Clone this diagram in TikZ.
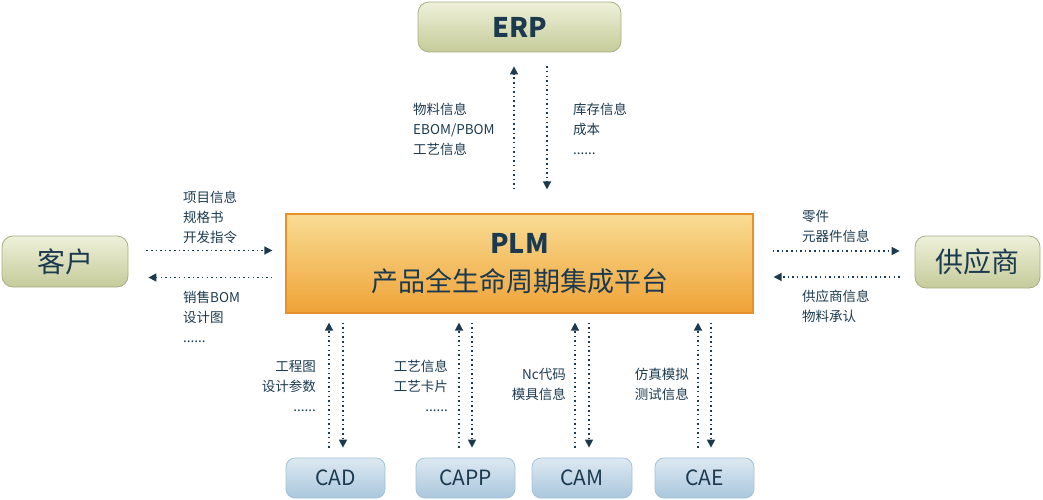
\documentclass[tikz,border=0pt]{standalone}
\usepackage{fontspec}
\setmainfont{Noto Sans CJK SC}
\usepackage{tikz}
\usetikzlibrary{arrows.meta,calc}

\definecolor{navy}{HTML}{1C3A4F}
\definecolor{erptop}{HTML}{EEF1D9}
\definecolor{erpbot}{HTML}{C5CB9A}
\definecolor{erpline}{HTML}{A7AE86}
\definecolor{plmtop}{HTML}{F8DC94}
\definecolor{plmbot}{HTML}{EFA236}
\definecolor{plmline}{HTML}{E8912A}
\definecolor{tooltop}{HTML}{DDE9F2}
\definecolor{toolbot}{HTML}{A9C7DD}
\definecolor{toolline}{HTML}{A5C1D6}

\tikzset{
  greenbox/.style={rounded corners=11pt, draw=erpline, line width=0.8pt,
    top color=erptop, bottom color=erpbot, text=navy, inner sep=0pt},
  plmbox/.style={draw=plmline, line width=1.2pt,
    top color=plmtop, bottom color=plmbot, text=navy, inner sep=0pt,
    minimum width=467pt, minimum height=99pt, align=center},
  toolbox/.style={rounded corners=9pt, draw=toolline, line width=0.8pt,
    top color=tooltop, bottom color=toolbot, text=navy, inner sep=0pt,
    minimum width=99pt, minimum height=40pt, font=\fontsize{21}{24}\selectfont},
  flow/.style={navy, line width=1.5pt, dash pattern=on 1.5pt off 3.1pt,
    -{Triangle[width=8pt,length=8pt]}},
  info/.style={text=navy, inner sep=0pt, font=\fontsize{13.5}{20}\selectfont}
}

\begin{document}
\begin{tikzpicture}[x=1pt,y=1pt]
	%%%%% START %%%%%
	\useasboundingbox (0,0) rectangle (1043,-500);

	% boxes
	\node[greenbox, minimum width=203pt, minimum height=50pt,
	  font=\fontsize{27}{30}\selectfont\bfseries] (erp) at (519.5,-27) {ERP};
	\node[plmbox, font=\fontsize{27}{38}\selectfont] (plm) at (519.5,-263.5)
	  {\textbf{PLM}\\产品全生命周期集成平台};
	\node[greenbox, minimum width=126pt, minimum height=51pt,
	  font=\fontsize{28}{30}\selectfont] (kehu) at (65,-261.5) {客户};
	\node[greenbox, minimum width=125pt, minimum height=52pt,
	  font=\fontsize{28}{30}\selectfont] (gys) at (977.5,-262) {供应商};
	\node[toolbox] (cad) at (335.5,-478) {CAD};
	\node[toolbox] (capp) at (465.5,-478) {CAPP};
	\node[toolbox, minimum width=100pt] (cam) at (582,-478) {CAM};
	\node[toolbox] (cae) at (704.5,-478) {CAE};

	% ERP <-> PLM
	\draw[flow, shorten <=24pt, shorten >=14pt] ([xshift=-5.5pt]plm.north) -- ([xshift=-5.5pt]erp.south);
	\draw[flow, shorten <=14pt, shorten >=24pt] ([xshift=27.5pt]erp.south) -- ([xshift=27.5pt]plm.north);

	% customer <-> PLM
	\draw[flow, shorten <=18pt, shorten >=13pt] ([yshift=11pt]kehu.east) -- ([yshift=11pt]kehu.east -| plm.west);
	\draw[flow, shorten <=13pt, shorten >=20pt] ([yshift=-16pt]kehu.east -| plm.west) -- ([yshift=-16pt]kehu.east);

	% supplier <-> PLM
	\draw[flow, shorten <=19pt, shorten >=15pt] ([yshift=11pt]gys.west -| plm.east) -- ([yshift=11pt]gys.west);
	\draw[flow, shorten <=15pt, shorten >=20pt] ([yshift=-15pt]gys.west) -- ([yshift=-15pt]gys.west -| plm.east);

	% tools <-> PLM
	\foreach \t/\a/\b in {cad/-6.5/7.5, capp/-6.5/6.5, cam/-7/7, cae/-6.5/6.5}{
	  \draw[flow, shorten <=10pt, shorten >=9pt] ([xshift=\a pt]\t.north) -- ([xshift=\a pt]\t.north |- plm.south);
	  \draw[flow, shorten <=9pt, shorten >=10pt] ([xshift=\b pt]\t.north |- plm.south) -- ([xshift=\b pt]\t.north);
	}

	% labels (anchored at the baseline of the last line)
	\node[info, align=left, anchor=base west] (erpin) at (413,-154) {物料信息\\EBOM/PBOM\\工艺信息};
	\node[info, align=left, anchor=base west] (erpout) at (573,-154) {库存信息\\成本\\......};
	\node[info, align=left, anchor=base west] (kehuin) at (183,-242) {项目信息\\规格书\\开发指令};
	\node[info, align=left, anchor=base west] (kehuout) at (183,-342) {销售BOM\\设计图\\......};
	\node[info, align=left, anchor=base west] (gysin) at (802,-241) {零件\\元器件信息};
	\node[info, align=left, anchor=base west] (gysout) at (802,-321) {供应商信息\\物料承认};
	\node[info, align=right, anchor=base east] (cadinfo) at (316,-411) {工程图\\设计参数\\......};
	\node[info, align=right, anchor=base east] (cappinfo) at (448,-411) {工艺信息\\工艺卡片\\......};
	\node[info, align=right, anchor=base east] (caminfo) at (566,-399) {Nc代码\\模具信息};
	\node[info, align=right, anchor=base east] (caeinfo) at (689,-399) {仿真模拟\\测试信息};

	%%%%% END %%%%%
\end{tikzpicture}
\end{document}
